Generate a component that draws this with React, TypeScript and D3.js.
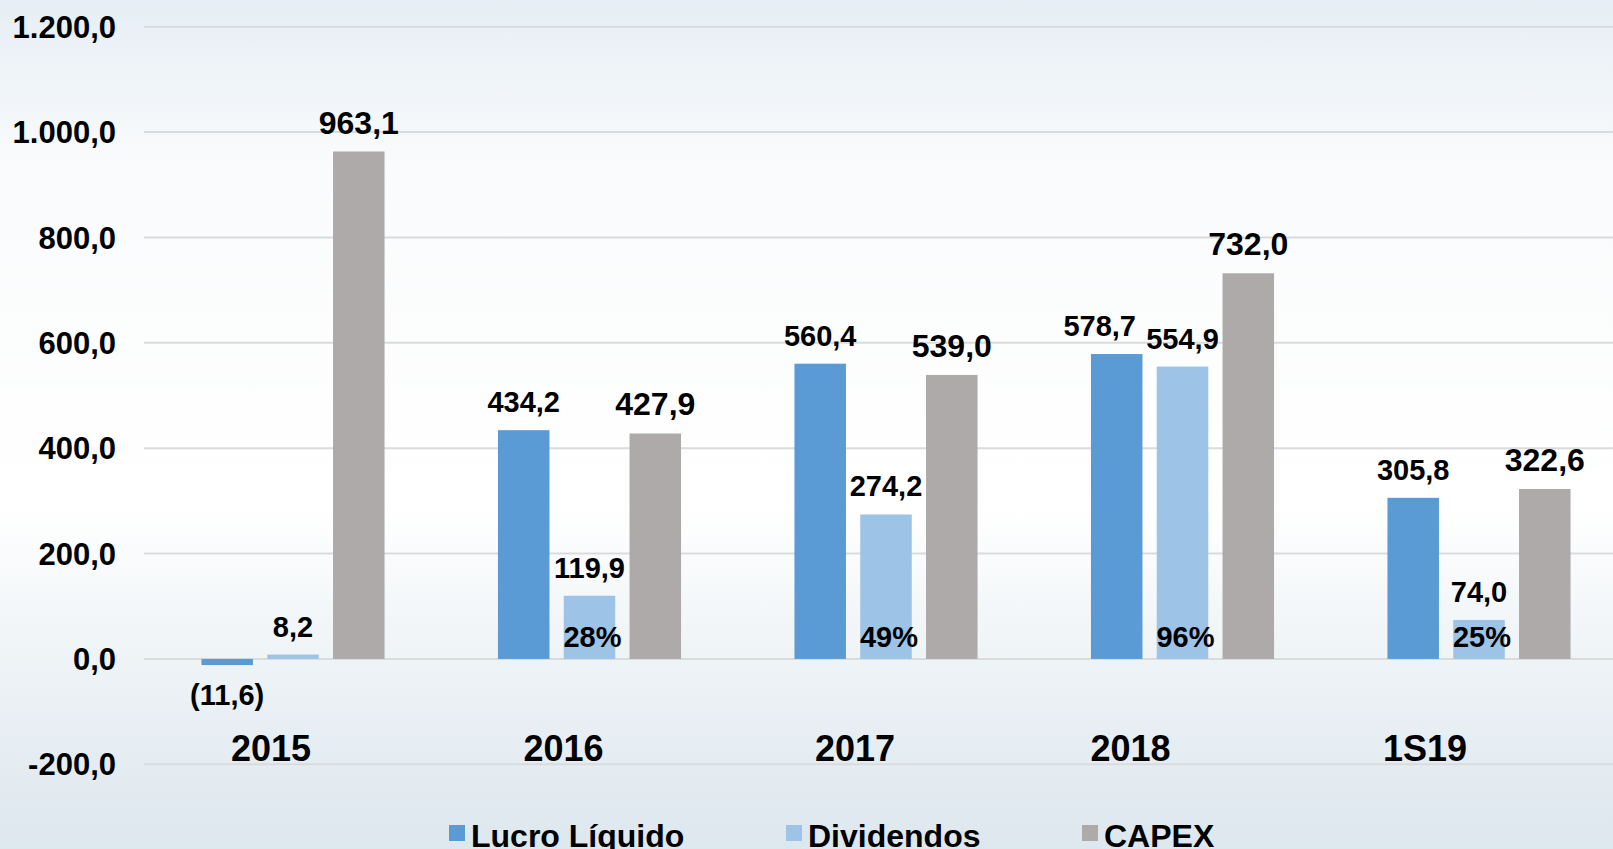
import React from "react";
import * as d3 from "d3";

const categories = ["2015", "2016", "2017", "2018", "1S19"];
const seriesNames = ["Lucro Líquido", "Dividendos", "CAPEX"];
const lucro = [-11.6, 434.2, 560.4, 578.7, 305.8];
const dividendos = [8.2, 119.9, 274.2, 554.9, 74.0];
const capex = [963.1, 427.9, 539.0, 732.0, 322.6];
const payout = ["", "28%", "49%", "96%", "25%"];
const yTicks = [-200, 0, 200, 400, 600, 800, 1000, 1200];

const colors = ["#5b9bd5", "#9dc3e6", "#aeaaaa"];
// layout-only tweaks (category label shift)
const catLabelShift = [-22, -26, -31, -52, -54];

const W = 1613;
const H = 849;
const FONT = "'Liberation Sans', Arial, sans-serif";

const fmt = (v: number) => {
  const s = d3.format(",.1f")(Math.abs(v));
  const br = s.replace(/,/g, "#").replace(/\./g, ",").replace(/#/g, ".");
  return v < 0 ? "-" + br : br;
};
const fmtLabel = (v: number) => (v < 0 ? `(${fmt(-v)})` : fmt(v));

export default function App() {
  const y = d3.scaleLinear().domain([-200, 1200]).range([764.3, 26.7]);
  const x = d3.scaleBand<string>().domain(categories).range([144.75, 1627.25]).padding(0);
  const bw = x.bandwidth();
  const xs = d3
    .scaleBand<string>()
    .domain(seriesNames)
    .range([bw / 2 - 98.7, bw / 2 + 98.7])
    .paddingInner(0.217)
    .paddingOuter(0.1087);
  const series = [lucro, dividendos, capex];
  const y0 = y(0);

  return (
    <svg width={W} height={H} style={{ display: "block", position: "absolute", left: 0, top: 0 }} fontFamily={FONT}>
      <defs>
        <linearGradient id="bg" x1="0" y1="0" x2="0" y2="1">
          <stop offset="0" stopColor="#e6eef5" />
          <stop offset="0.2" stopColor="#fafbfc" />
          <stop offset="0.6" stopColor="#ffffff" />
          <stop offset="0.78" stopColor="#eef3f6" />
          <stop offset="1" stopColor="#dde7ee" />
        </linearGradient>
      </defs>
      <rect x={0} y={0} width={W} height={H} fill="url(#bg)" />
      {yTicks.map((t) => (
        <g key={t}>
          <line x1={144} x2={W} y1={y(t)} y2={y(t)} stroke="#d9dbdd" strokeWidth={2} />
          <text x={116} y={y(t)} dy="0.36em" textAnchor="end" fontSize={31} fontWeight="bold" fill="#000">
            {fmt(t)}
          </text>
        </g>
      ))}
      {categories.map((c, i) => (
        <g key={c} transform={`translate(${x(c)},0)`}>
          {series.map((s, k) => {
            const v = s[i];
            const bx = xs(seriesNames[k])!;
            const top = Math.min(y(v), y0);
            const h = Math.abs(y(v) - y0);
            return (
              <rect key={k} x={bx} y={top} width={xs.bandwidth()} height={h} fill={colors[k]} />
            );
          })}
          {series.map((s, k) => {
            const v = s[i];
            const cx = xs(seriesNames[k])! + xs.bandwidth() / 2 + (i === 3 && k === 0 ? -17 : 0);
            const fs = k === 2 ? 32 : 29;
            const ty = v < 0 ? y(v) + 40 : y(v) - 18;
            return (
              <text key={"l" + k} x={cx} y={ty} textAnchor="middle" fontSize={fs} fontWeight="bold" fill="#000">
                {fmtLabel(v)}
              </text>
            );
          })}
          {payout[i] && (
            <text
              x={xs(seriesNames[1])! + xs.bandwidth() / 2 + 3}
              y={y0 - 12}
              textAnchor="middle"
              fontSize={29}
              fontWeight="bold"
              fill="#000"
            >
              {payout[i]}
            </text>
          )}
          <text x={bw / 2 + catLabelShift[i]} y={761} textAnchor="middle" fontSize={36} fontWeight="bold" fill="#000">
            {c}
          </text>
        </g>
      ))}
      {seriesNames.map((n, k) => {
        const lx = [449, 786, 1082][k];
        return (
          <g key={n}>
            <rect x={lx} y={825} width={16} height={16} fill={colors[k]} />
            <text x={lx + 22} y={847} fontSize={32} fontWeight="bold" fill="#000">
              {n}
            </text>
          </g>
        );
      })}
    </svg>
  );
}
